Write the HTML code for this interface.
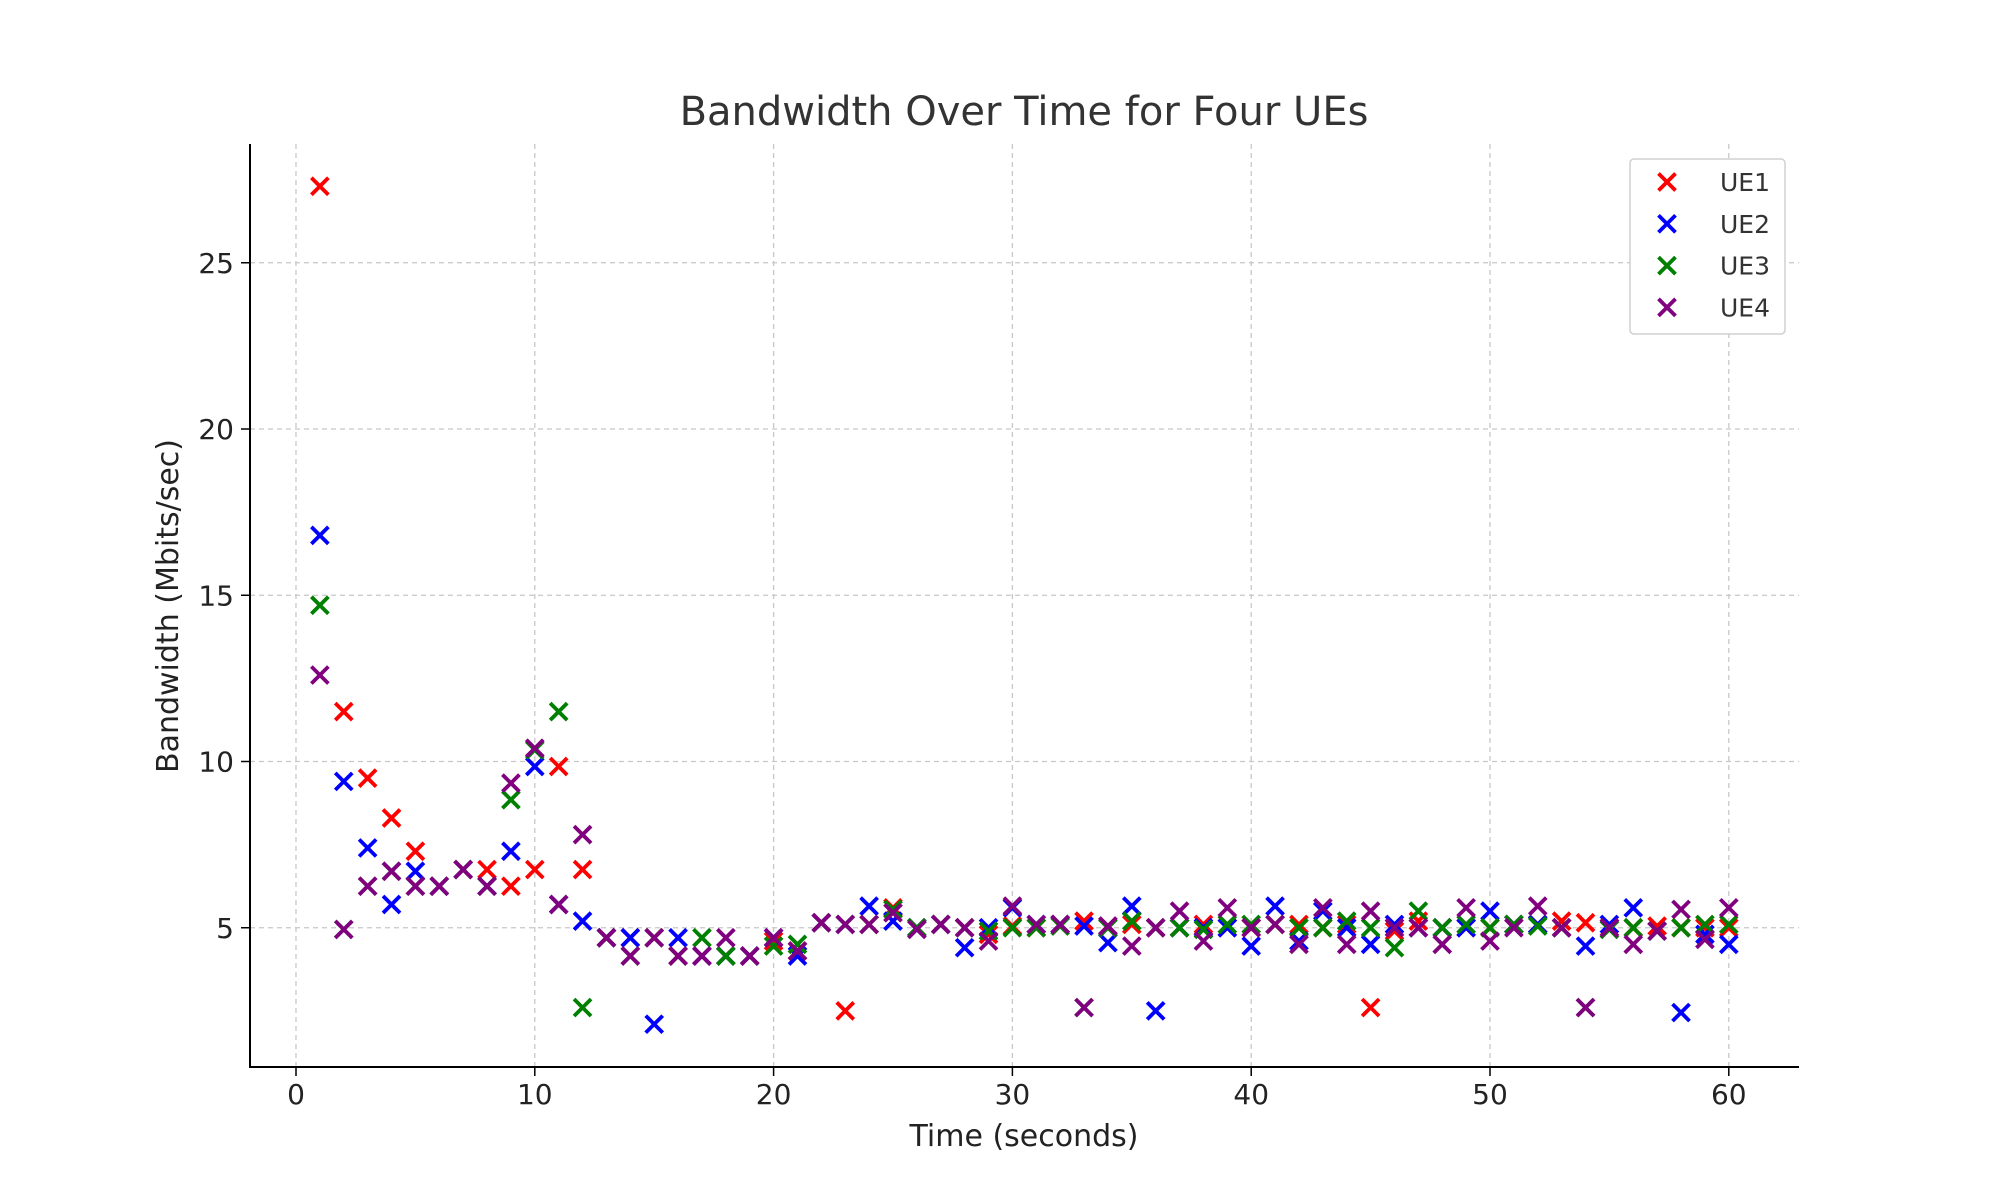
<!DOCTYPE html>
<html><head><meta charset="utf-8"><style>
body{margin:0;background:#fff}
svg{display:block;font-family:"DejaVu Sans","Liberation Sans",sans-serif}
</style></head><body>
<svg id="chart" width="2000" height="1200" viewBox="0 0 2000 1200">
<rect width="2000" height="1200" fill="#fff"/>
<text x="1024" y="125" font-size="40" text-anchor="middle" fill="#333">Bandwidth Over Time for Four UEs</text>
<g id="grid"></g><g id="ticks"></g><g id="marks"></g>
<line x1="250" y1="144" x2="250" y2="1067" stroke="#000" stroke-width="2"/>
<line x1="249" y1="1067" x2="1799" y2="1067" stroke="#000" stroke-width="2"/>
<text x="1024" y="1146" font-size="30" text-anchor="middle" fill="#222">Time (seconds)</text>
<text transform="translate(178,606) rotate(-90)" font-size="30" text-anchor="middle" fill="#222">Bandwidth (Mbits/sec)</text>
<g id="legend"></g>
</svg>
<script>
const times=[];for(let i=1;i<=60;i++)times.push(i);
const ue1=[27.3,11.5,9.5,8.3,7.3,6.25,6.75,6.75,6.25,6.75,9.85,6.75,4.7,4.7,4.7,4.15,4.15,4.15,4.15,4.6,4.3,5.15,2.5,5.1,5.6,5.0,5.1,5.0,4.8,5.05,5.0,5.1,5.2,5.05,5.1,5.0,5.0,5.1,5.0,5.0,5.1,5.1,5.0,5.1,2.6,4.9,5.2,5.0,5.0,5.0,5.1,5.1,5.2,5.15,5.0,5.0,5.05,5.0,5.0,5.0];
const ue2=[16.8,9.4,7.4,5.7,6.7,6.25,6.75,6.25,7.3,9.85,5.7,5.2,4.7,4.7,2.1,4.7,4.15,4.15,4.15,4.7,4.15,5.15,5.1,5.65,5.2,5.0,5.1,4.4,5.0,5.6,5.1,5.1,5.05,4.55,5.65,2.5,5.0,5.0,5.0,4.45,5.65,4.6,5.5,5.0,4.5,5.1,5.0,5.0,5.0,5.5,5.1,5.1,5.0,4.45,5.1,5.6,4.9,2.45,4.8,4.5];
const ue3=[14.7,4.95,6.25,6.7,6.25,6.25,6.75,6.25,8.85,10.35,11.5,2.6,4.7,4.15,4.7,4.15,4.7,4.15,4.15,4.45,4.5,5.15,5.1,5.1,5.55,5.0,5.1,5.0,4.9,5.0,5.0,5.05,2.6,5.0,5.2,5.0,5.0,4.95,5.1,5.1,5.1,5.0,5.0,5.2,5.0,4.4,5.5,5.0,5.1,5.0,5.1,5.05,5.0,2.6,4.95,5.0,4.9,5.0,5.1,5.1];
const ue4=[12.6,4.95,6.25,6.7,6.25,6.25,6.75,6.25,9.35,10.4,5.7,7.8,4.7,4.15,4.7,4.15,4.15,4.7,4.15,4.7,4.3,5.15,5.1,5.1,5.45,4.95,5.1,5.0,4.6,5.65,5.1,5.1,2.6,5.05,4.45,5.0,5.5,4.6,5.6,5.0,5.1,4.5,5.6,4.5,5.5,5.0,5.0,4.5,5.6,4.6,5.0,5.65,5.0,2.6,5.0,4.5,4.9,5.55,4.65,5.6];
const xTicks=[0,10,20,30,40,50,60];
const yTicks=[5,10,15,20,25];
const seriesNames=["UE1","UE2","UE3","UE4"];
const seriesColors=["#ff0000","#0000ff","#008000","#800080"];
const seriesData=[ue1,ue2,ue3,ue4];
const NS="http://www.w3.org/2000/svg";
const xs=v=>296+v*23.88;
const ys=v=>1094-v*33.25;
function mk(tag,attrs,parent){const e=document.createElementNS(NS,tag);for(const k in attrs)e.setAttribute(k,attrs[k]);parent.appendChild(e);return e;}
const grid=document.getElementById('grid'),ticks=document.getElementById('ticks'),marks=document.getElementById('marks'),legend=document.getElementById('legend');
xTicks.forEach(t=>{
  const g=mk('line',{x1:xs(t),x2:xs(t),y1:144,y2:1067,stroke:'#c8c8c8','stroke-width':1.3,'stroke-dasharray':'5,4'},grid);
  
  
  mk('line',{x1:xs(t),x2:xs(t),y1:1067,y2:1076,stroke:'#000','stroke-width':1.5},ticks);
  const tx=mk('text',{x:xs(t),y:1104,'font-size':28,'text-anchor':'middle',fill:'#222'},ticks);
  tx.textContent=t;
  
  
});
yTicks.forEach(t=>{
  const g=mk('line',{x1:250,x2:1799,y1:ys(t),y2:ys(t),stroke:'#c8c8c8','stroke-width':1.3,'stroke-dasharray':'5,4'},grid);
  
  
  mk('line',{x1:241,x2:250,y1:ys(t),y2:ys(t),stroke:'#000','stroke-width':1.5},ticks);
  const tx=mk('text',{x:234,y:ys(t)+10,'font-size':28,'text-anchor':'end',fill:'#222'},ticks);
  tx.textContent=t;
  
  
});
function cross(cx,cy,color,parent){
  const s=8.5;
  return mk('path',{d:`M${cx-s},${cy-s}L${cx+s},${cy+s}M${cx-s},${cy+s}L${cx+s},${cy-s}`,stroke:color,'stroke-width':3.8,fill:'none'},parent);
}
seriesData.forEach((arr,si)=>{
  const g=mk('g',{},marks);
  
  
  arr.forEach((v,i)=>{
    const p=cross(xs(times[i]),ys(v),seriesColors[si],g);
    
    
  });
});
mk('rect',{x:1630,y:159,width:155,height:175,rx:4,fill:'#fff',stroke:'#d0d0d0','stroke-width':1.5},legend);
seriesNames.forEach((n,i)=>{
  const y=182+i*41.8;
  const e=mk('g',{},legend);
  
  
  cross(1667,y,seriesColors[i],e);
  const t=mk('text',{x:1720,y:y+9,'font-size':25,fill:'#333'},e);
  t.textContent=n;
});
</script>
</body></html>
